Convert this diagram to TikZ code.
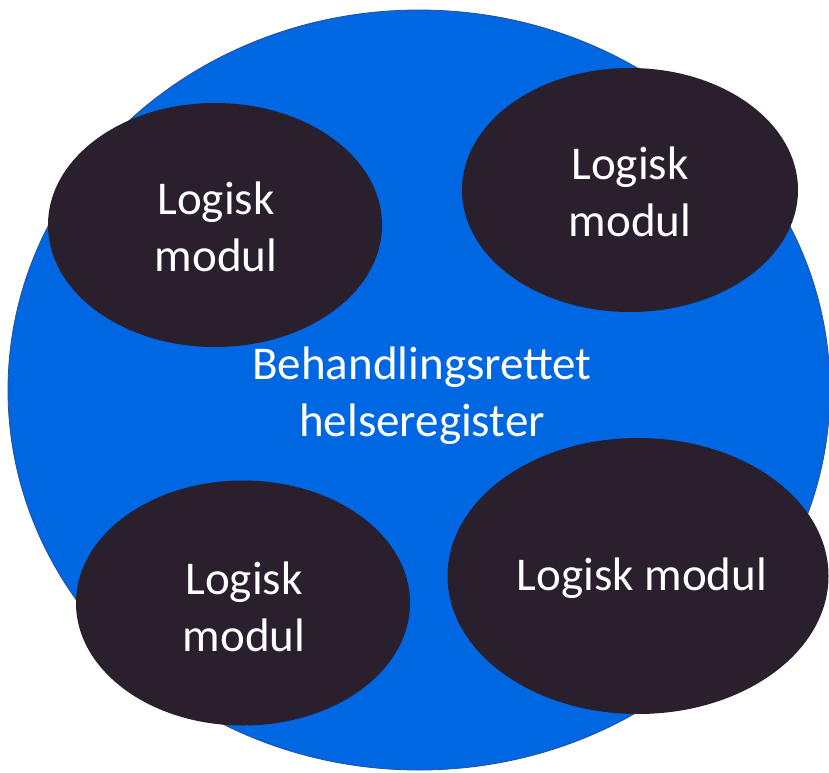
\documentclass[tikz,border=0pt]{standalone}
\usepackage{fontspec}
\setmainfont{Carlito}
\usetikzlibrary{shapes.geometric}
\definecolor{regblue}{RGB}{0,103,226}
\definecolor{regedge}{RGB}{40,80,150}
\definecolor{moddark}{RGB}{42,31,45}
\tikzset{
  register/.style={ellipse, fill=regblue, draw=regedge, line width=0.8pt, inner sep=0pt},
  modul/.style={ellipse, fill=moddark, draw=none, inner sep=0pt, text=white, align=center},
  modtext/.style={text=white, align=center, font=\fontsize{47}{57}\selectfont},
  regtext/.style={text=white, align=center, font=\fontsize{47}{57}\selectfont}
}
\begin{document}
\begin{tikzpicture}[x=1pt,y=-1pt]
\useasboundingbox (0,0) rectangle (829,772);
\node[register, minimum width=822pt, minimum height=760pt] (reg) at (419,390) {};
\node[regtext] (regt) at (422,396) {Behandlingsrettet\\helseregister};
\node[modul, minimum width=334pt, minimum height=244pt] (m1) at (215,225) {};
\node[modul, minimum width=336pt, minimum height=244pt] (m2) at (630,190) {};
\node[modul, minimum width=334pt, minimum height=245pt] (m3) at (243,603) {};
\node[modul, minimum width=381pt, minimum height=276pt] (m4) at (638,576) {};
\node[modtext] (t1) at (216,227) {Logisk\\modul};
\node[modtext] (t2) at (630,192) {Logisk\\modul};
\node[modtext] (t3) at (244,607) {Logisk\\modul};
\node[modtext] (t4) at (642,578) {Logisk modul};
\end{tikzpicture}
\end{document}
